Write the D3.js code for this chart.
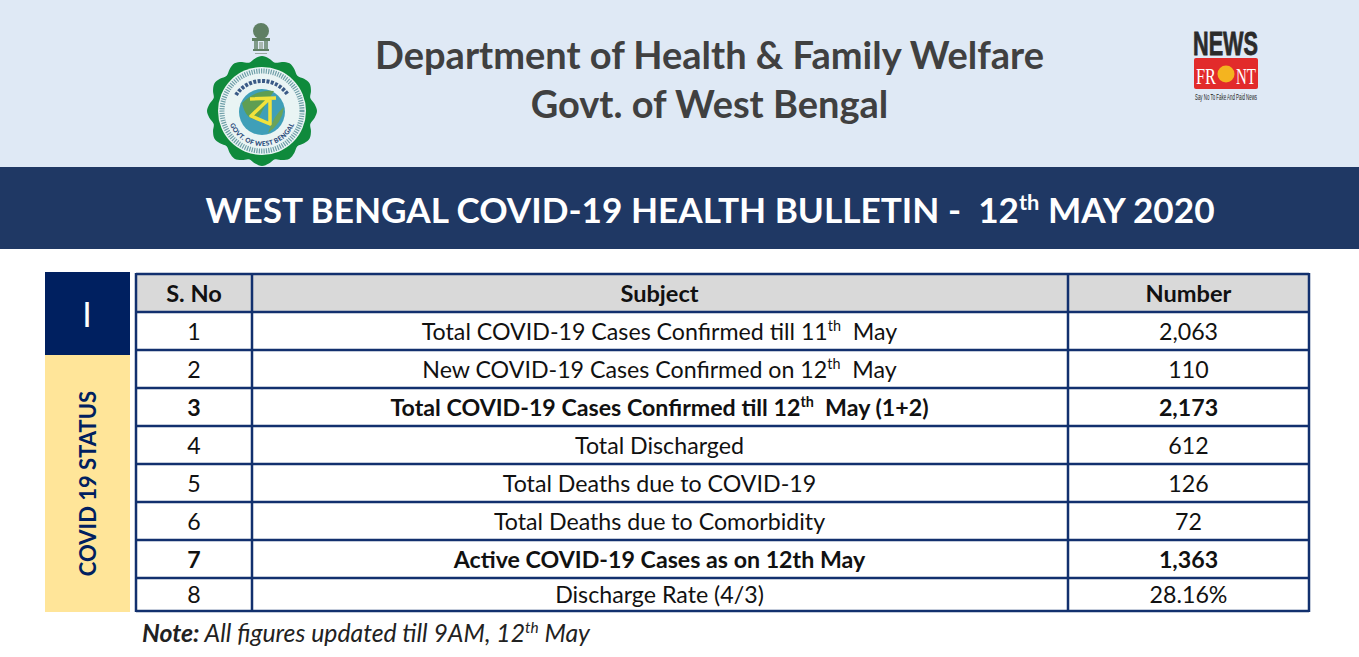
<!DOCTYPE html>
<html>
<head>
<meta charset="utf-8">
<script src="https://cdnjs.cloudflare.com/ajax/libs/d3/7.8.5/d3.min.js"></script>
<style>
html, body { margin: 0; padding: 0; background: #fff; overflow: hidden; }
text { font-family: Lato, "Open Sans", sans-serif; }
</style>
</head>
<body>
<div id="graph"></div>
<script>
// ^x^ marks a superscript
var titleLines = ["Department of Health & Family Welfare", "Govt. of West Bengal"];
var bulletin = "WEST BENGAL COVID-19 HEALTH BULLETIN -  12^th^ MAY 2020";
var headers = ["S. No", "Subject", "Number"];
var serials = ["1", "2", "3", "4", "5", "6", "7", "8"];
var subjects = [
    "Total COVID-19 Cases Confirmed till 11^th^  May",
    "New COVID-19 Cases Confirmed on 12^th^  May",
    "Total COVID-19 Cases Confirmed till 12^th^  May (1+2)",
    "Total Discharged",
    "Total Deaths due to COVID-19",
    "Total Deaths due to Comorbidity",
    "Active COVID-19 Cases as on 12th May",
    "Discharge Rate (4/3)"
];
var numbers = ["2,063", "110", "2,173", "612", "126", "72", "1,363", "28.16%"];
var boldRows = ["3", "7"];
var sectionMark = "I";
var sectionName = "COVID 19 STATUS";

var width = 1359, height = 657;

var svg = d3.select("#graph").append("svg")
    .attr("width", width)
    .attr("height", height)
    .style("display", "block");

// split "a^th^b" into tspans
function addRich(sel, str, size) {
    str.split("^").forEach(function(part, i) {
        var sup = i % 2 == 1;
        var t = sel.append("tspan").text(part).attr("xml:space", "preserve");
        if (sup) {
            t.attr("font-size", size * 0.62).attr("dy", -size * 0.36);
        } else if (i > 0) {
            t.attr("dy", size * 0.36);
        }
    });
}

// Header blocks
svg.append("rect").attr("width", width).attr("height", 167).attr("fill", "#dfe9f5");
svg.append("rect").attr("y", 167).attr("width", width).attr("height", 82).attr("fill", "#1f3864");

svg.selectAll(".title")
    .data(titleLines)
    .enter().append("text")
    .attr("class", "title")
    .attr("x", 709.5)
    .attr("y", function(d, i) { return 69 + i * 49; })
    .attr("text-anchor", "middle")
    .attr("font-size", 38)
    .attr("font-weight", 700)
    .attr("fill", "#404040")
    .text(function(d) { return d; });

var bulletinText = svg.append("text")
    .attr("x", 710)
    .attr("y", 223)
    .attr("text-anchor", "middle")
    .attr("font-size", 35.2)
    .attr("font-weight", 700)
    .attr("fill", "#fff")
    .style("white-space", "pre");
addRich(bulletinText, bulletin, 35.2);

// State emblem
var emblem = svg.append("g").attr("transform", "translate(262,111)");
var scallop = d3.range(0, 48).map(function(i) {
    return [i / 48 * 2 * Math.PI, i % 4 == 0 ? 55 : (i % 2 == 0 ? 50 : 53)];
});
emblem.append("path")
    .attr("d", d3.lineRadial().curve(d3.curveCardinalClosed)(scallop))
    .attr("fill", "#0f8a3c");
emblem.append("circle").attr("r", 44).attr("fill", "#e9f4f4");
emblem.append("circle").attr("r", 40).attr("fill", "none")
    .attr("stroke", "#6f9fa8").attr("stroke-width", 5).attr("stroke-dasharray", "1.2 1.2");
emblem.append("circle").attr("r", 23).attr("cy", 1).attr("fill", "#3f9fb8");
emblem.append("path").attr("d", "M-20,-8 Q-6,-22 12,-20 Q4,-8 -4,8 Q-16,10 -20,-8Z").attr("fill", "#5f9e52");
emblem.append("path").attr("d", "M6,22 Q20,12 22,-4 Q12,4 6,22Z").attr("fill", "#6aa35a");
emblem.append("path")
    .attr("d", "M-12,-12 L14,-13 M8,-13 L-11,5 L8,13 L8,-13")
    .attr("fill", "none").attr("stroke", "#f2e23c").attr("stroke-width", 3.5).attr("stroke-linejoin", "round");
emblem.append("path").attr("id", "arcBot").attr("d", "M-33,0 A33,33 0 0 0 33,0").attr("fill", "none");
emblem.append("text").attr("font-size", 6.6).attr("font-weight", 900).attr("fill", "#2a4a7a").attr("dy", 2)
    .append("textPath").attr("href", "#arcBot").attr("startOffset", "50%").attr("text-anchor", "middle")
    .text("GOVT. OF WEST BENGAL");
// the Bengali legend along the top, no Bengali font here so only its texture
emblem.append("path")
    .attr("d", "M-26,-16 A31,31 0 0 1 26,-16")
    .attr("fill", "none").attr("stroke", "#3a5a86").attr("stroke-width", 4).attr("stroke-dasharray", "3 1.4");

// Lion capital above the emblem
var capital = svg.append("g").attr("transform", "translate(261,39)").attr("fill", "#5f7f63");
capital.append("ellipse").attr("cy", -8).attr("rx", 8).attr("ry", 8);
capital.append("rect").attr("x", -9).attr("y", -1).attr("width", 18).attr("height", 3);
capital.append("rect").attr("x", -7).attr("y", 2).attr("width", 4).attr("height", 9).attr("fill", "#7f9a88");
capital.append("rect").attr("x", 3).attr("y", 2).attr("width", 4).attr("height", 9).attr("fill", "#7f9a88");
capital.append("rect").attr("x", -2).attr("y", 3).attr("width", 4).attr("height", 8).attr("fill", "#a9b8b0");
capital.append("rect").attr("x", -8).attr("y", 10).attr("width", 16).attr("height", 2);
capital.append("rect").attr("x", -6).attr("y", 14).attr("width", 12).attr("height", 1).attr("fill", "#9aa8a0");

// News Front logo
var logo = svg.append("g");
logo.append("text").attr("x", 1225.5).attr("y", 55).attr("text-anchor", "middle")
    .attr("font-size", 33).attr("font-weight", 700).attr("fill", "#2b2b2b")
    .attr("textLength", 65).attr("lengthAdjust", "spacingAndGlyphs")
    .attr("stroke", "#2b2b2b").attr("stroke-width", 0.8)
    .style("font-family", "'Liberation Sans', sans-serif")
    .text("NEWS");
logo.append("rect").attr("x", 1194).attr("y", 58).attr("width", 64).attr("height", 31).attr("rx", 2).attr("fill", "#e22b2b");
logo.append("text").attr("x", 1216).attr("y", 84).attr("text-anchor", "end")
    .attr("font-size", 24).attr("fill", "#fff")
    .style("font-family", "'Liberation Serif', serif")
    .attr("textLength", 20).attr("lengthAdjust", "spacingAndGlyphs")
    .text("FR");
logo.append("text").attr("x", 1236).attr("y", 84)
    .attr("font-size", 24).attr("fill", "#fff")
    .style("font-family", "'Liberation Serif', serif")
    .attr("textLength", 20).attr("lengthAdjust", "spacingAndGlyphs")
    .text("NT");
logo.append("circle").attr("cx", 1226).attr("cy", 74).attr("r", 8.5).attr("fill", "#f4b41f");
logo.append("text").attr("x", 1226).attr("y", 100).attr("text-anchor", "middle")
    .attr("font-size", 9).attr("fill", "#222")
    .attr("textLength", 62).attr("lengthAdjust", "spacingAndGlyphs")
    .style("font-family", "'Liberation Sans', sans-serif")
    .text("Say No To Fake And Paid News");

// Side block
svg.append("rect").attr("x", 45).attr("y", 272).attr("width", 85).attr("height", 83).attr("fill", "#002060");
svg.append("rect").attr("x", 45).attr("y", 355).attr("width", 85).attr("height", 257).attr("fill", "#ffe599");
svg.append("text")
    .attr("x", 87).attr("y", 327)
    .attr("text-anchor", "middle")
    .attr("font-size", 34)
    .attr("fill", "#fff")
    .text(sectionMark);
svg.append("text")
    .attr("transform", "translate(96,483.5) rotate(-90)")
    .attr("text-anchor", "middle")
    .attr("font-size", 22)
    .attr("font-weight", 700)
    .attr("fill", "#002060")
    .text(sectionName);

// Table
var rowKeys = ["head"].concat(serials);
var rowEdges = [274, 312, 350, 388, 426, 464, 502, 540, 578, 611];
var yTop = d3.scaleOrdinal().domain(rowKeys).range(rowEdges);
var yBottom = d3.scaleOrdinal().domain(rowKeys).range(rowEdges.slice(1));
var xEdges = [136, 252, 1068, 1309];
var lineColor = "#12306e";

function yMid(key) { return (yTop(key) + yBottom(key)) / 2 + 8.5; }

svg.append("rect")
    .attr("x", xEdges[0]).attr("y", rowEdges[0])
    .attr("width", xEdges[3] - xEdges[0]).attr("height", rowEdges[1] - rowEdges[0])
    .attr("fill", "#d9d9d9");

svg.selectAll(".hline")
    .data(rowEdges)
    .enter().append("line")
    .attr("class", "hline")
    .attr("x1", xEdges[0]).attr("x2", xEdges[3])
    .attr("y1", function(d) { return d; }).attr("y2", function(d) { return d; })
    .attr("stroke", lineColor).attr("stroke-width", 2.5);

svg.selectAll(".vline")
    .data(xEdges)
    .enter().append("line")
    .attr("class", "vline")
    .attr("y1", rowEdges[0] - 1).attr("y2", rowEdges[9] + 1)
    .attr("x1", function(d) { return d; }).attr("x2", function(d) { return d; })
    .attr("stroke", lineColor).attr("stroke-width", 2.5);

var colMid = [194, 659.5, 1188.5];
var headerKey = "head";
svg.selectAll(".colHead")
    .data(headers)
    .enter().append("text")
    .attr("class", "colHead")
    .attr("x", function(d, i) { return colMid[i]; })
    .attr("y", yMid(headerKey))
    .attr("text-anchor", "middle")
    .attr("font-size", 23.6)
    .attr("font-weight", 700)
    .attr("fill", "#111")
    .text(function(d) { return d; });

var cellSize = 23.2;
var rows = svg.selectAll(".row")
    .data(serials)
    .enter().append("g")
    .attr("class", "row")
    .attr("font-size", cellSize)
    .attr("font-weight", function(d) { return boldRows.indexOf(d) >= 0 ? 700 : 400; })
    .attr("fill", "#111");

rows.append("text")
    .attr("x", colMid[0])
    .attr("y", function(d) { return yMid(d); })
    .attr("text-anchor", "middle")
    .text(function(d) { return d; });

rows.append("text")
    .attr("x", colMid[1])
    .attr("y", function(d) { return yMid(d); })
    .attr("text-anchor", "middle")
    .style("white-space", "pre")
    .each(function(d, i) { addRich(d3.select(this), subjects[i], cellSize); });

rows.append("text")
    .attr("x", colMid[2])
    .attr("y", function(d) { return yMid(d); })
    .attr("text-anchor", "middle")
    .text(function(d, i) { return numbers[i]; });

// Footnote
var note = svg.append("text")
    .attr("x", 142).attr("y", 642)
    .attr("font-size", 24.8)
    .attr("font-style", "italic")
    .attr("fill", "#222")
    .style("white-space", "pre");
note.append("tspan").attr("font-weight", 700).text("Note:");
addRich(note, " All figures updated till 9AM, 12^th^ May", 24.8);
</script>
</body>
</html>
